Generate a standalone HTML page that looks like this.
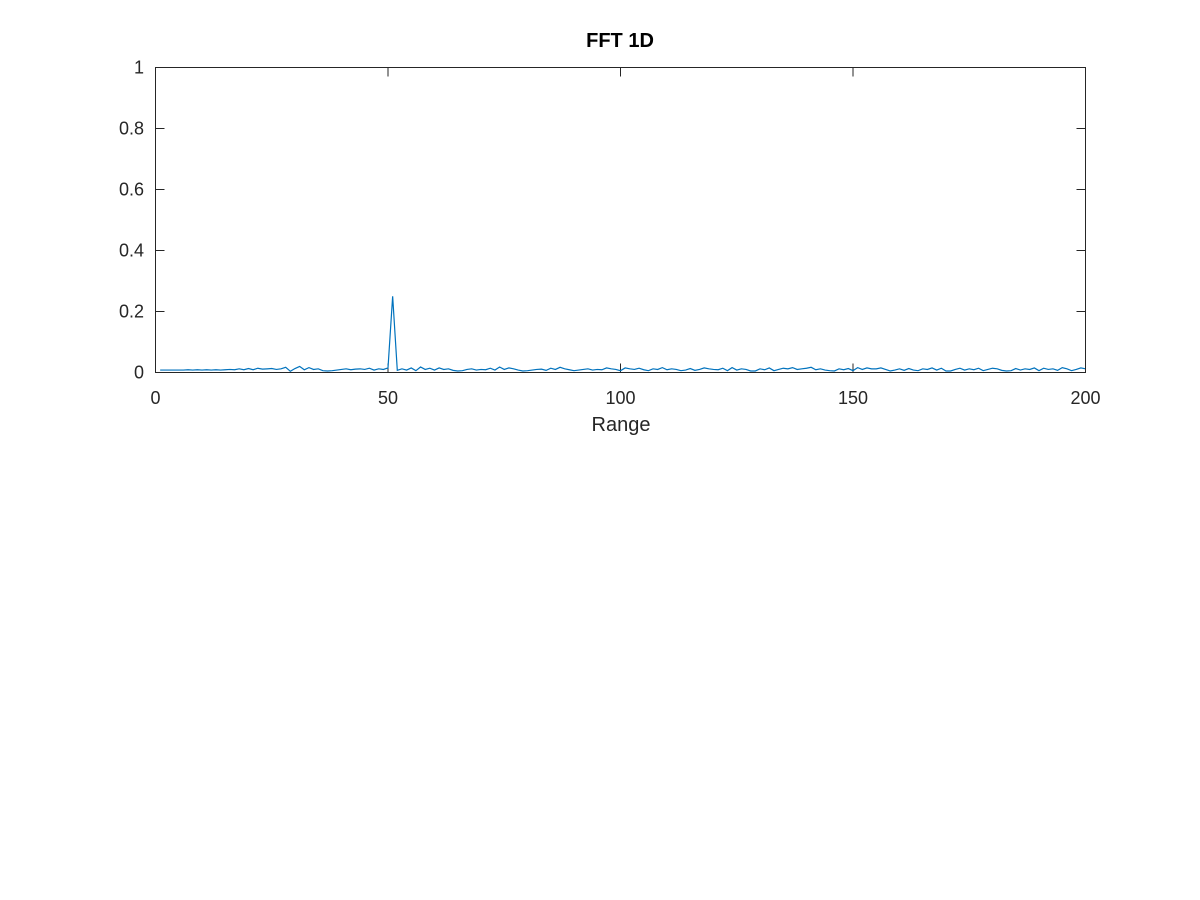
<!DOCTYPE html>
<html><head><meta charset="utf-8"><style>
body{margin:0;background:#fff;}
svg{display:block;font-family:"Liberation Sans",sans-serif;}
</style></head><body>
<svg id="chart" width="1200" height="900">
<rect x="0" y="0" width="1200" height="900" fill="#fff"/>
<text x="620" y="47" text-anchor="middle" font-size="20" font-weight="bold" fill="#000">FFT 1D</text>
<g id="ticks"></g>
<g id="series"></g>
<rect x="155.5" y="67.5" width="930" height="305" fill="none" stroke="#262626" stroke-width="1"/>
<text x="621" y="431" text-anchor="middle" font-size="20" fill="#262626">Range</text>
</svg>
<script>
const xTicks=[0,50,100,150,200];
const yTicks=[0,0.2,0.4,0.6,0.8,1];
const yTickLabels=["0","0.2","0.4","0.6","0.8","1"];
const magnitudes=[8,8,8,8,8,8,9,8,9,8,9,8,9,8,9,10,9,12,9,13,9,14,11,12,13,10,12,17,4,13,20,9,16,10,12,6,5,6,8,10,12,9,11,12,10,14,8,12,10,15,250,7,12,8,15,6,18,10,14,8,15,10,12,7,5,6,10,12,8,10,9,14,8,18,10,15,12,8,5,6,8,10,11,7,14,10,17,12,9,6,8,10,12,8,10,9,15,12,10,6,15,12,10,14,9,6,12,10,16,9,12,10,6,8,13,7,10,15,12,10,9,14,6,16,8,12,10,5,5,12,9,15,6,10,14,12,16,10,12,14,17,9,12,8,6,5,12,9,13,6,16,10,15,12,12,15,10,5,8,12,7,13,8,6,12,10,15,8,14,5,5,10,14,8,12,9,14,6,10,14,12,7,5,6,13,8,12,10,15,6,14,10,12,7,16,12,6,10,15,12];
const X0=155.5,X1=1085.5,Y0=372.5,Y1=67.5;
const xs=v=>X0+(v-0)/(200-0)*(X1-X0);
const ys=v=>Y0-(v-0)/(1-0)*(Y0-Y1);
const NS="http://www.w3.org/2000/svg";
const tg=document.getElementById('ticks');
xTicks.forEach((t,i)=>{
  const x=xs(t);
  [[Y0,Y0-9],[Y1,Y1+9]].forEach(p=>{
    const l=document.createElementNS(NS,'line');
    l.setAttribute('x1',x);l.setAttribute('x2',x);l.setAttribute('y1',p[0]);l.setAttribute('y2',p[1]);
    l.setAttribute('stroke','#262626');
    
    
    tg.appendChild(l);
  });
  const tx=document.createElementNS(NS,'text');
  tx.setAttribute('x',x);tx.setAttribute('y',404);tx.setAttribute('text-anchor','middle');
  tx.setAttribute('font-size','18');tx.setAttribute('fill','#262626');
  tx.textContent=String(t);
  
  
  tg.appendChild(tx);
});
yTicks.forEach((t,i)=>{
  const y=ys(t);
  [[X0,X0+9],[X1,X1-9]].forEach(p=>{
    const l=document.createElementNS(NS,'line');
    l.setAttribute('x1',p[0]);l.setAttribute('x2',p[1]);l.setAttribute('y1',y);l.setAttribute('y2',y);
    l.setAttribute('stroke','#262626');
    
    
    tg.appendChild(l);
  });
  const tx=document.createElementNS(NS,'text');
  tx.setAttribute('x',144);tx.setAttribute('y',y+6);tx.setAttribute('text-anchor','end');
  tx.setAttribute('font-size','18');tx.setAttribute('fill','#262626');
  tx.textContent=yTickLabels[i];
  
  
  tg.appendChild(tx);
});
const pts=magnitudes.map((m,i)=>xs(i+1)+','+ys(m/1000)).join(' ');
const pl=document.createElementNS(NS,'polyline');
pl.setAttribute('points',pts);pl.setAttribute('fill','none');
pl.setAttribute('stroke','#0072BD');pl.setAttribute('stroke-width','1.2');


document.getElementById('series').appendChild(pl);
</script>
</body></html>
